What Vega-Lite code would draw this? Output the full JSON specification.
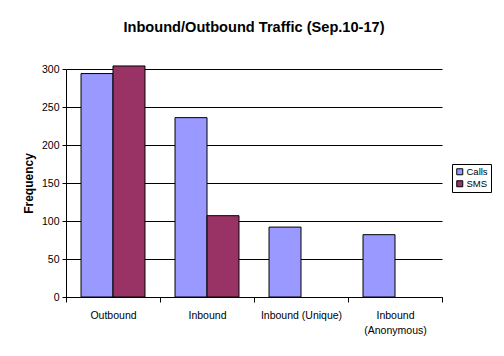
{
  "$schema": "https://vega.github.io/schema/vega-lite/v6.json",
  "width": 376,
  "height": 228,
  "autosize": {"type": "none"},
  "padding": {"left": 66, "top": 69, "right": 62, "bottom": 59},
  "background": "white",
  "title": {
    "text": "Inbound/Outbound Traffic (Sep.10-17)",
    "font": "Liberation Sans",
    "fontSize": 14.6,
    "fontWeight": "bold",
    "color": "black",
    "anchor": "middle",
    "baseline": "alphabetic",
    "offset": 17
  },
  "data": {
    "values": [
      {"category": "Outbound", "series": "Calls", "value": 294},
      {"category": "Outbound", "series": "SMS", "value": 304},
      {"category": "Inbound", "series": "Calls", "value": 236},
      {"category": "Inbound", "series": "SMS", "value": 107},
      {"category": "Inbound (Unique)", "series": "Calls", "value": 92},
      {"category": "Inbound (Anonymous)", "series": "Calls", "value": 82}
    ]
  },
  "mark": {"type": "bar", "stroke": "black", "strokeWidth": 1, "clip": false},
  "encoding": {
    "x": {
      "field": "category",
      "type": "nominal",
      "sort": ["Outbound", "Inbound", "Inbound (Unique)", "Inbound (Anonymous)"],
      "scale": {"paddingInner": 0, "paddingOuter": 0},
      "axis": {
        "title": null,
        "labelAngle": 0,
        "tickBand": "extent",
        "grid": false,
        "tickSize": 5,
        "tickColor": "black",
        "domainColor": "black",
        "labelColor": "black",
        "labelFont": "Liberation Sans",
        "labelFontSize": 10.5,
        "labelPadding": 8,
        "labelLineHeight": 15,
        "labelExpr": "datum.label == 'Inbound (Anonymous)' ? ['Inbound', '(Anonymous)'] : datum.label"
      }
    },
    "xOffset": {
      "field": "series",
      "type": "nominal",
      "scale": {"domain": ["Calls", "SMS"], "paddingInner": 0, "paddingOuter": 0.47}
    },
    "y": {
      "field": "value",
      "type": "quantitative",
      "scale": {"domain": [0, 300], "nice": false},
      "axis": {
        "title": "Frequency",
        "titleFont": "Liberation Sans",
        "titleFontSize": 12,
        "titleFontWeight": "bold",
        "titleColor": "black",
        "titlePadding": 6,
        "values": [0, 50, 100, 150, 200, 250, 300],
        "grid": true,
        "gridColor": "black",
        "gridOpacity": 1,
        "gridWidth": 1,
        "tickSize": 4,
        "tickColor": "black",
        "domainColor": "black",
        "labelColor": "black",
        "labelFont": "Liberation Sans",
        "labelFontSize": 10.5,
        "labelPadding": 3
      }
    },
    "color": {
      "field": "series",
      "type": "nominal",
      "scale": {"domain": ["Calls", "SMS"], "range": ["#9999FF", "#993366"]},
      "legend": {
        "title": null,
        "orient": "none",
        "legendX": 386,
        "legendY": 95,
        "strokeColor": "black",
        "padding": 3,
        "fillColor": "white",
        "symbolType": "square",
        "symbolSize": 36,
        "symbolStrokeColor": "black",
        "symbolStrokeWidth": 1,
        "symbolOpacity": 1,
        "labelFont": "Liberation Sans",
        "labelFontSize": 9.5,
        "labelColor": "black",
        "labelOffset": 2,
        "rowPadding": 1
      }
    }
  },
  "config": {
    "view": {"stroke": null},
    "axis": {"domainWidth": 1, "tickWidth": 1}
  }
}
